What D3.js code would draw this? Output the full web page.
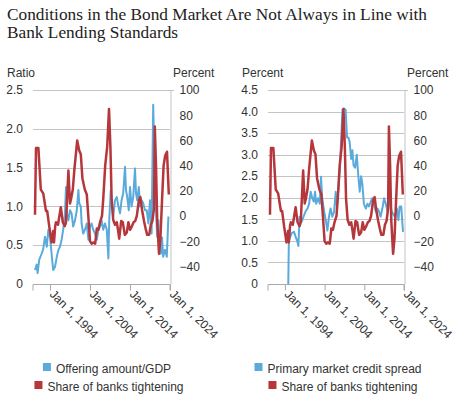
<!DOCTYPE html>
<html><head><meta charset="utf-8">
<script src="https://cdn.jsdelivr.net/npm/d3@7"></script>
<style>body{margin:0;background:#fff;} svg{display:block;}</style>
</head><body>
<svg id="c" width="458" height="400"></svg>
<script>
// ---------- data ----------
const titleLines = ["Conditions in the Bond Market Are Not Always in Line with", "Bank Lending Standards"];
const tickYears = [1994, 2004, 2014, 2024];
const ratioTicks = [0, 0.5, 1.0, 1.5, 2.0, 2.5];
const spreadTicks = [0, 0.5, 1.0, 1.5, 2.0, 2.5, 3.0, 3.5, 4.0, 4.5];
const percentTicks = [-40, -20, 0, 20, 40, 60, 80, 100];

// Share of banks tightening (percent, right axis), quarterly-ish
const tighteningYears = [1990.25,1990.5,1991.1,1991.7,1992.3,1993.0,1993.3,1993.8,1994.4,1994.8,1995.0,1995.3,1995.5,1996.0,1996.7,1997.2,1997.7,1998.0,1998.6,1999.0,1999.3,1999.7,2000.1,2000.8,2001.3,2001.7,2002.1,2002.7,2003.2,2003.6,2004.0,2004.4,2004.8,2005.3,2005.7,2006.1,2006.5,2007.0,2007.3,2007.8,2008.3,2008.75,2009.1,2009.4,2009.8,2010.25,2010.7,2011.0,2011.3,2011.8,2012.2,2012.7,2013.2,2013.6,2014.0,2014.5,2014.9,2015.3,2015.7,2016.2,2016.6,2017.0,2017.5,2017.9,2018.3,2018.8,2019.2,2019.6,2020.0,2020.2,2020.5,2020.8,2021.25,2021.6,2022.0,2022.4,2022.8,2023.25,2023.7];
const tighteningValues = [1,54,54,21,18,4,4,-8,-21,-12,-21,-8,-5,-7,7,-5,-8,-5,36,10,14,21,37,60,52,49,30,21,17,-1,-20,-22,-21,-22,-10,-11,-5,0,13,40,55,85,55,14,-3,-7,-5,-11,-18,-4,-5,-15,-13,-5,-11,-8,-5,-4,0,12,15,5,-4,-10,-15,-15,-7,-4,6,71,40,-4,-30,-18,12,40,48,51,17];

// Offering amount / GDP (ratio, left axis of left panel)
const offeringYears = [1990.25,1990.67,1990.9,1991.3,1991.9,1992.3,1992.75,1993.2,1993.6,1994.0,1994.4,1994.8,1995.25,1995.7,1996.1,1996.5,1996.9,1997.3,1997.75,1998.0,1998.25,1998.6,1999.0,1999.4,1999.8,2000.25,2000.7,2001.1,2001.3,2001.7,2001.9,2002.3,2002.75,2003.2,2003.6,2004.0,2004.4,2004.8,2005.25,2005.7,2006.1,2006.5,2006.9,2007.3,2007.75,2008.2,2008.6,2008.8,2009.2,2009.5,2009.8,2010.25,2010.7,2011.1,2011.5,2011.9,2012.3,2012.75,2013.0,2013.3,2013.7,2014.0,2014.4,2014.8,2015.25,2015.5,2015.8,2016.2,2016.5,2016.9,2017.3,2017.75,2018.2,2018.6,2019.0,2019.4,2019.8,2020.2,2020.5,2020.8,2021.1,2021.3,2021.7,2022.0,2022.3,2022.75,2023.2,2023.6];
const offeringValues = [0.18,0.25,0.14,0.31,0.39,0.45,0.61,0.48,0.70,0.61,0.39,0.18,0.22,0.35,0.44,0.48,0.57,0.70,0.91,1.25,0.91,0.82,0.95,0.91,0.74,0.82,0.95,1.21,1.04,1.00,0.78,0.65,0.70,0.78,0.57,0.74,0.78,0.70,0.65,0.57,0.70,0.74,0.82,0.70,0.78,0.70,0.33,0.82,1.21,1.00,0.87,1.08,1.12,1.00,0.91,1.08,1.17,1.51,1.21,1.12,0.95,1.25,1.00,1.12,1.49,1.17,1.08,1.25,1.00,1.08,1.04,0.95,0.95,0.78,1.08,0.65,2.31,1.42,0.95,0.61,0.82,0.57,0.39,0.60,0.35,0.44,0.35,0.87];

// Primary market credit spread (percent, left axis of right panel)
const spreadYears = [1994.86,1995.0,1995.7,1996.3,1996.7,1997.1,1997.4,1997.7,1998.2,1998.7,1999.2,1999.7,2000.1,2000.5,2000.9,2001.3,2001.6,2001.9,2002.35,2002.8,2003.1,2003.4,2003.9,2004.3,2004.7,2005.1,2005.5,2005.95,2006.4,2006.8,2007.1,2007.5,2007.8,2008.1,2008.5,2008.9,2009.3,2009.65,2010.0,2010.3,2010.7,2011.0,2011.3,2011.7,2012.1,2012.5,2012.85,2013.2,2013.5,2013.9,2014.4,2014.8,2015.2,2015.6,2016.0,2016.45,2016.9,2017.3,2017.7,2018.1,2018.55,2019.0,2019.4,2019.8,2020.2,2020.9,2021.3,2021.7,2022.2,2022.6,2022.9,2023.3,2023.75];
const spreadValues = [0,1.0,1.18,1.21,1.1,1.0,0.88,1.56,1.44,1.56,1.68,1.75,1.86,2.14,1.99,1.91,2.14,1.86,1.99,1.86,2.49,1.99,1.68,1.48,1.24,1.56,1.75,1.56,1.68,2.14,1.80,2.22,2.6,3.18,4.04,4.07,4.04,3.4,3.4,3.3,2.9,3.1,2.75,2.7,3.0,2.5,2.14,2.5,2.33,1.86,1.75,1.86,1.8,1.9,1.99,1.86,1.68,1.75,1.68,1.56,1.75,1.99,1.86,1.7,2.0,1.68,1.62,1.56,1.75,1.48,1.8,1.8,1.21];

const panels = [
  {x0: 33, x1: 170, leftTitle: "Ratio", rightTitle: "Percent", leftTicks: ratioTicks, leftMax: 2.5,
   blueYears: offeringYears, blueValues: offeringValues,
   legend: ["Offering amount/GDP", "Share of banks tightening"], legendCenter: [107, 109]},
  {x0: 268, x1: 404, leftTitle: "Percent", rightTitle: "Percent", leftTicks: spreadTicks, leftMax: 4.5,
   blueYears: spreadYears, blueValues: spreadValues,
   legend: ["Primary market credit spread", "Share of banks tightening"], legendCenter: [338, 343]}
];

// ---------- drawing ----------
const BLUE = "#5aaadb", RED = "#b5363b", GRID = "#c4c4c4", TXT = "#333";
const FONT = "'Liberation Sans', Arial, sans-serif";
const plotTop = 90, plotBottom = 284;
const svg = d3.select("#c");
svg.append("rect").attr("width", 458).attr("height", 400).attr("fill", "#fff");

function toDate(t) {
  const y = Math.floor(t);
  const s = new Date(y, 0, 1), e = new Date(y + 1, 0, 1);
  return new Date(+s + (t - y) * (e - s));
}

// title
const title = svg.append("g").attr("fill", "#222").style("font-family", "'Liberation Serif', 'Times New Roman', serif");
const tl = title.selectAll("text").data(titleLines).join("text")
  .attr("x", 7).attr("y", (d, i) => 20 + i * 18).style("font-size", "17px").text(d => d);
const w0 = tl.nodes()[0].getComputedTextLength();
tl.style("font-size", (17 * 420 / w0) + "px");

const fmtDate = d3.timeFormat("%b %-d, %Y");

panels.forEach(p => {
  const g = svg.append("g").style("font-family", FONT).style("font-size", "12px");
  const x = d3.scaleTime().domain([toDate(1989.75), toDate(2024.0)]).range([p.x0, p.x1]);
  const yL = d3.scaleLinear().domain([0, p.leftMax]).range([plotBottom, plotTop]);
  const yR = d3.scaleLinear().domain([-54, 100]).range([plotBottom, plotTop]);

  // gridlines
  g.append("g").selectAll("line").data(p.leftTicks.filter(v => v > 0)).join("line")
    .attr("x1", p.x0).attr("x2", p.x1)
    .attr("y1", d => Math.round(yL(d)) + 0.5).attr("y2", d => Math.round(yL(d)) + 0.5)
    .attr("stroke", GRID).attr("stroke-width", 1);

  // left axis labels
  const fmtL = d => d === 0 ? "0" : d3.format(".1f")(d);
  g.append("g").selectAll("text").data(p.leftTicks).join("text")
    .attr("x", p.x0 - 10).attr("y", d => yL(d)).attr("dy", "0.35em")
    .attr("text-anchor", "end").attr("fill", TXT).text(fmtL);

  // right axis
  const rAxis = d3.axisRight(yR).tickValues(percentTicks).tickSize(0).tickPadding(9);
  const ra = g.append("g").attr("transform", `translate(${Math.round(p.x1) + 0.5},0)`).call(rAxis);
  ra.select(".domain").attr("stroke", GRID);
  ra.selectAll("text").attr("fill", TXT).style("font-family", FONT).style("font-size", "12px");
  g.append("line").attr("x1", p.x1).attr("x2", p.x1 + 4)
    .attr("y1", plotTop + 0.5).attr("y2", plotTop + 0.5).attr("stroke", GRID);

  // axis titles
  g.append("text").attr("x", p.x0 - 26).attr("y", 77).attr("fill", TXT).text(p.leftTitle);
  g.append("text").attr("x", p.x1 + 3).attr("y", 77).attr("fill", TXT).text(p.rightTitle);

  // x axis
  const xAxis = d3.axisBottom(x).tickValues(tickYears.map(y => new Date(y, 0, 1)))
    .tickSize(6).tickFormat(fmtDate);
  const xa = g.append("g").attr("transform", `translate(0,${plotBottom + 0.5})`).call(xAxis);
  xa.select(".domain").attr("stroke", "#aaa").attr("d", `M${p.x0},6V0H${p.x1}V6`);
  xa.selectAll(".tick line").attr("stroke", "#aaa");
  xa.selectAll(".tick text")
    .attr("fill", TXT).style("font-family", FONT).style("font-size", "12px")
    .attr("text-anchor", "start").attr("dy", "0")
    .attr("transform", "translate(-3,9) rotate(45)")
    .attr("y", 0).attr("x", 2);

  // lines
  const blueData = p.blueYears.map((t, i) => [toDate(t), p.blueValues[i]]);
  const redData = tighteningYears.map((t, i) => [toDate(t), tighteningValues[i]]);
  g.append("path").datum(blueData)
    .attr("d", d3.line().x(d => x(d[0])).y(d => yL(d[1])))
    .attr("fill", "none").attr("stroke", BLUE).attr("stroke-width", 2).attr("stroke-linejoin", "round");
  g.append("path").datum(redData)
    .attr("d", d3.line().x(d => x(d[0])).y(d => yR(d[1])))
    .attr("fill", "none").attr("stroke", RED).attr("stroke-width", 2.5).attr("stroke-linejoin", "round");

  // legend
  const colors = [BLUE, RED];
  p.legend.forEach((label, i) => {
    const lg = g.append("g");
    const t = lg.append("text").attr("fill", TXT).attr("y", 373 + i * 18).text(label);
    const tw = t.node().getComputedTextLength();
    const total = 8 + 5 + tw;
    const left = p.legendCenter[i] - total / 2;
    lg.append("rect").attr("x", left).attr("y", 363 + i * 18).attr("width", 8).attr("height", 8).attr("fill", colors[i]);
    t.attr("x", left + 13);
  });
});
</script>
</body></html>
